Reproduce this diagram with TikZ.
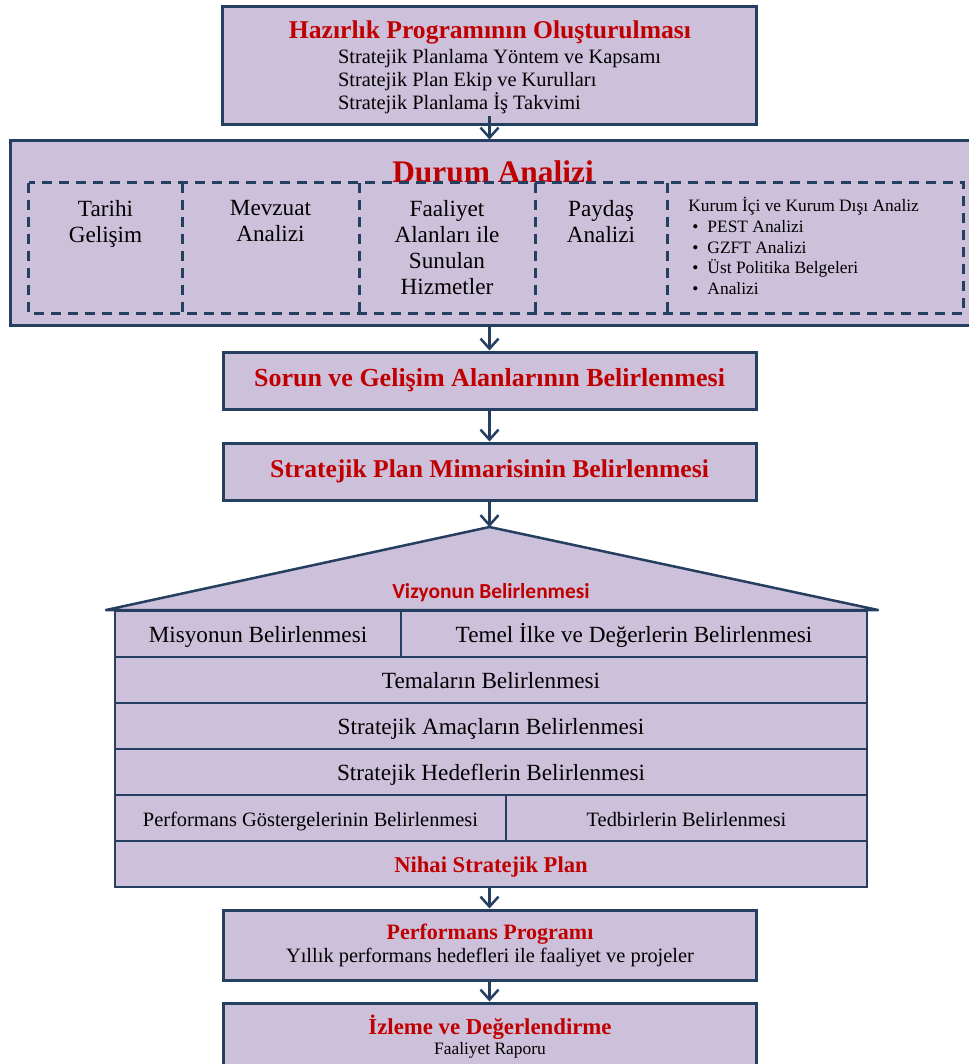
\documentclass[tikz,border=0pt]{standalone}
\usepackage{fontspec}
\setmainfont{Liberation Serif}
\newfontfamily\calibri{Carlito}
\usetikzlibrary{arrows.meta}
\definecolor{flila}{RGB}{204, 192, 218}
\definecolor{kenar}{RGB}{36, 63, 96}
\definecolor{kirmizi}{RGB}{192, 0, 0}

\begin{document}
\begin{tikzpicture}[x=0.5pt,y=-0.5pt]
                \useasboundingbox (0,0) rectangle (968,1064);

                \tikzstyle{box}=[rectangle, draw=kenar, fill=flila, line width=1.5pt, inner sep=0pt]
                \tikzstyle{hucre}=[rectangle, inner sep=0pt, minimum height=65pt]
                \tikzstyle{kesik}=[draw=kenar, dash pattern=on 5pt off 3.5pt, line width=1.4pt]
                \tikzstyle{satir}=[rectangle, draw=kenar, fill=flila, line width=1.25pt, inner sep=0pt, minimum height=23pt, text height=10.5pt, text depth=2.2pt, font=\fontsize{11.6}{13}\selectfont]
                \tikzstyle{baslikyazi}=[text=kirmizi, font=\bfseries\fontsize{12.8}{15}\selectfont]
                \tikzstyle{hucreyazi}=[anchor=north, align=center, inner sep=0pt, font=\fontsize{11.6}{13}\selectfont]
                \tikzstyle{bind}=[-{Straight Barb[length=5pt,width=9pt]}, line width=1.25pt, draw=kenar]

                % hazirlik
                \node[box, minimum width=267pt, minimum height=59pt] (hazirlik) at (489.5,66) {};
                \node[baslikyazi] (hazirlikbaslik) at (490,32) {Hazırlık Programının Oluşturulması};
                \node[anchor=west, align=left, font=\fontsize{10.2}{11.5}\selectfont] (hazirlikliste) at (331,82) {Stratejik Planlama Yöntem ve Kapsamı\\Stratejik Plan Ekip ve Kurulları\\Stratejik Planlama İş Takvimi};

                % durum analizi (sag kenar sayfa disinda)
                \node[box, minimum width=500pt, minimum height=92pt] (durum) at (510,233) {};
                \node[text=kirmizi, font=\bfseries\fontsize{15.7}{18}\selectfont] (durumbaslik) at (493,172) {Durum Analizi};

                \node[hucre, minimum width=76.5pt] (tarihi) at (105.5,248) {};
                \node[hucre, minimum width=88.5pt] (mevzuat) at (270.5,248) {};
                \node[hucre, minimum width=88pt] (faaliyet) at (447,248) {};
                \node[hucre, minimum width=66pt] (paydas) at (601,248) {};
                \node[hucre, minimum width=148pt] (kurum) at (815,248) {};
                \draw[kesik] (tarihi.north west) rectangle (kurum.south east);
                \foreach \h in {tarihi, mevzuat, faaliyet, paydas}
                  \draw[kesik] (\h.north east) -- (\h.south east);

                \node[hucreyazi] (tarihiyazi) at (105.5,200) {Tarihi\\Gelişim};
                \node[hucreyazi] (mevzuatyazi) at (270.5,200) {Mevzuat\\Analizi};
                \node[hucreyazi] (faaliyetyazi) at (447,200) {Faaliyet\\Alanları ile\\Sunulan\\Hizmetler};
                \node[hucreyazi] (paydasyazi) at (601,200) {Paydaş\\Analizi};
                \node[anchor=north west, align=left, inner sep=0pt, font=\fontsize{8.7}{10.35}\selectfont] (kurumyazi) at (688,197) {Kurum İçi ve Kurum Dışı Analiz\\
                  \hspace*{2pt}\textbullet\hspace{4.5pt}PEST Analizi\\
                  \hspace*{2pt}\textbullet\hspace{4.5pt}GZFT Analizi\\
                  \hspace*{2pt}\textbullet\hspace{4.5pt}Üst Politika Belgeleri\\
                  \hspace*{2pt}\textbullet\hspace{4.5pt}Analizi};

                % sorun, mimari
                \node[box, baslikyazi, font=\bfseries\fontsize{13}{15}\selectfont, minimum width=266.5pt, minimum height=28.5pt] (sorun) at (489.5,380.5) {Sorun ve Gelişim Alanlarının Belirlenmesi};
                \node[box, baslikyazi, minimum width=266.5pt, minimum height=28.5pt] (mimari) at (489.5,471.5) {Stratejik Plan Mimarisinin Belirlenmesi};

                % cati ve katlar
                \coordinate (cati) at (489.5,527);
                \filldraw[fill=flila, draw=kenar, line width=1.25pt, line join=round] (cati) -- (106,610) -- (878,610) -- cycle;
                \node[text=kirmizi, font=\calibri\bfseries\fontsize{10.7}{12}\selectfont] (vizyon) at (491,593) {Vizyonun Belirlenmesi};

                \node[satir, minimum width=143pt] (misyon) at (258,634) {Misyonun Belirlenmesi};
                \node[satir, minimum width=233pt] (ilke) at (634,634) {Temel İlke ve Değerlerin Belirlenmesi};
                \node[satir, minimum width=376pt] (tema) at (491,680) {Temaların Belirlenmesi};
                \node[satir, minimum width=376pt] (amac) at (491,726) {Stratejik Amaçların Belirlenmesi};
                \node[satir, minimum width=376pt] (hedef) at (491,772) {Stratejik Hedeflerin Belirlenmesi};
                \node[satir, minimum width=195.5pt, font=\fontsize{10.2}{12}\selectfont] (gosterge) at (310.5,818) {Performans Göstergelerinin Belirlenmesi};
                \node[satir, minimum width=180.5pt, font=\fontsize{10.2}{12}\selectfont] (tedbir) at (686.5,818) {Tedbirlerin Belirlenmesi};
                \node[satir, minimum width=376pt, text=kirmizi, font=\bfseries\fontsize{11.3}{13}\selectfont] (nihai) at (491,864) {Nihai Stratejik Plan};

                % performans, izleme
                \node[box, minimum width=266.5pt, minimum height=35pt] (performans) at (489.5,945) {};
                \node[baslikyazi, font=\bfseries\fontsize{11}{13}\selectfont] (performansbaslik) at (490,934) {Performans Programı};
                \node[font=\fontsize{10.2}{12}\selectfont] (performansalt) at (490,958) {Yıllık performans hedefleri ile faaliyet ve projeler};

                \node[box, minimum width=266.5pt, minimum height=33.5pt] (izleme) at (489.5,1036.5) {};
                \node[baslikyazi, font=\bfseries\fontsize{11.4}{13}\selectfont] (izlemebaslik) at (490,1027) {İzleme ve Değerlendirme};
                \node[font=\fontsize{8.7}{10}\selectfont] (izlemealt) at (490,1050) {Faaliyet Raporu};

                \draw[bind] ([yshift=5pt]hazirlik.south) -- (hazirlik.south |- durum.north);
                \draw[bind] (durum.south -| sorun.north) -- (sorun.north);
                \draw[bind] (sorun.south) -- (mimari.north);
                \draw[bind] (mimari.south) -- (cati);
                \draw[bind] (nihai.south -| performans.north) -- (performans.north);
                \draw[bind] (performans.south) -- (izleme.north);
            \end{tikzpicture}
\end{document}
